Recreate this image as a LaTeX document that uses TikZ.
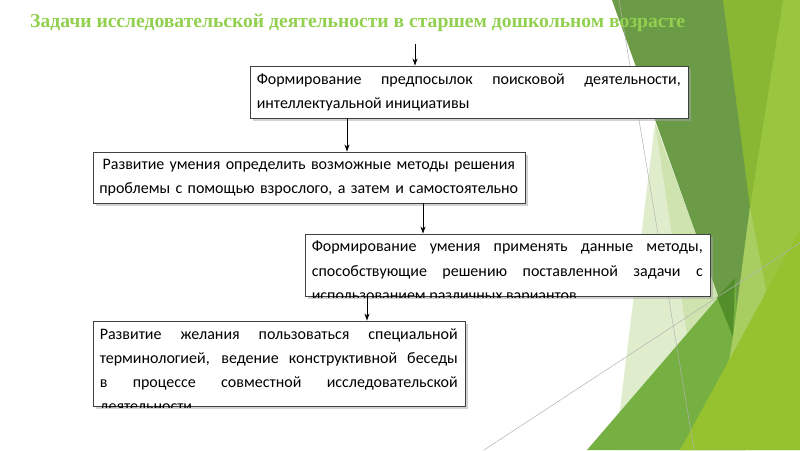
\documentclass[tikz,border=0pt]{standalone}
\usepackage{fontspec}
\setmainfont{Carlito}
\newfontfamily\titlefont{Liberation Serif}
\usetikzlibrary{arrows.meta, positioning, calc, shadows}
\definecolor{titlegreen}{RGB}{146,208,80}
\definecolor{facetdark}{RGB}{107,155,70}
\definecolor{facetlime}{RGB}{154,197,63}
\definecolor{facetmid}{RGB}{137,183,51}
\definecolor{facetpale}{RGB}{224,237,204}
\definecolor{facetpaletwo}{RGB}{207,227,174}
\definecolor{facetgreen}{RGB}{118,176,67}
\definecolor{facetwedge}{RGB}{82,142,42}
\definecolor{facetstripe}{RGB}{168,206,98}
\definecolor{facetbright}{RGB}{150,194,47}
\definecolor{bordercolor}{RGB}{64,64,64}
\hyphenpenalty=10000
\exhyphenpenalty=10000
\tolerance=9999
\tikzset{
  taskbox/.style={draw=bordercolor, line width=0.9pt, fill=white, inner sep=0pt,
                  drop shadow={shadow xshift=2.5pt, shadow yshift=-2.5pt, fill=black!35}},
  tasktext/.style={font=\fontsize{16}{24.3}\selectfont, text width=#1,
                   align=justify, inner xsep=7pt, inner ysep=7.5pt, anchor=north west},
  facetline/.style={draw=black!30, line width=0.5pt},
  arr/.style={-{Stealth[length=7pt, width=5pt]}, line width=0.8pt},
}

\begin{document}
\begin{tikzpicture}[x=1pt, y=-1pt]
  \useasboundingbox (0,0) rectangle (800,450);
  \fill[white] (0,0) rectangle (800,450);

  % Facet background
  \fill[facetlime]   (717,0) -- (800,0) -- (800,450) -- (680,450) -- (733,333) -- cycle;
  \fill[facetmid]    (723,0) -- (783,0) -- (750,207) -- cycle;
  \fill[facetpale]   (655,123) -- (615,450) -- (700,450) -- (735,340) -- cycle;
  \fill[facetpaletwo] (655,123) -- (700,420) -- (735,340) -- cycle;
  \fill[facetdark]   (612,0) -- (723,0) -- (750,207) -- (733,337) -- cycle;
  \fill[facetgreen]  (587,450) -- (735,278) -- (745,450) -- cycle;
  \fill[facetwedge]  (717,297) -- (735,278) -- (733,337) -- cycle;
  \fill[facetstripe] (750,207) -- (768,300) -- (728,367) -- (733,337) -- cycle;
  \fill[facetbright] (680,450) -- (800,230) -- (800,450) -- cycle;
  \draw[facetline] (619,0) -- (694,450);
  \draw[facetline] (484,450) -- (800,243);

  % Title
  \node[anchor=base west, inner sep=0pt, text=titlegreen,
        font=\titlefont\bfseries\fontsize{19.6}{24}\selectfont] (title) at (30,27)
    {Задачи исследовательской деятельности в старшем дошкольном возрасте};

  % Tasks
  \node[taskbox, minimum width=438pt, minimum height=52pt] (form) at (469,92) {};
  \node[tasktext=424pt] (formtext) at (form.north west)
    {Формирование предпосылок поисковой деятельности, \linebreak интеллектуальной инициативы};

  \node[taskbox, minimum width=432pt, minimum height=51pt] (meth) at (309,177.5) {};
  \node[tasktext=420pt, inner xsep=6pt, align=center] (methtext) at (meth.north west)
    {Развитие умения определить возможные методы решения\\
     проблемы с помощью взрослого, а затем и самостоятельно};

  \node[taskbox, minimum width=405pt, minimum height=62pt] (appl) at (507.5,265) {};
  \begin{scope}
    \clip ([shift={(1pt,-1pt)}]appl.south west) rectangle ([shift={(-1pt,1pt)}]appl.north east);
    \node[tasktext=391pt] (appltext) at (appl.north west)
      {Формирование умения применять данные методы, \linebreak способствующие решению поставленной задачи с
       \linebreak использованием различных вариантов};
  \end{scope}

  \node[taskbox, minimum width=372pt, minimum height=85pt] (term) at (279,363.5) {};
  \begin{scope}
    \clip ([shift={(1pt,-1pt)}]term.south west) rectangle ([shift={(-1pt,1pt)}]term.north east);
    \node[tasktext=358pt] (termtext) at (term.north west)
      {Развитие желания пользоваться специальной \linebreak терминологией, ведение конструктивной беседы
       \linebreak в процессе совместной исследовательской \linebreak деятельности};
  \end{scope}

  % Arrows
  \coordinate (start) at (415,44);
  \coordinate (k1) at (347,0);
  \coordinate (k2) at (423,0);
  \coordinate (k3) at (367,0);
  \draw[arr] (start) -- (start |- form.north);
  \draw[arr] (k1 |- form.south) -- (k1 |- meth.north);
  \draw[arr] (k2 |- meth.south) -- (k2 |- appl.north);
  \draw[arr] (k3 |- appl.south) -- (k3 |- term.north);
\end{tikzpicture}
\end{document}
